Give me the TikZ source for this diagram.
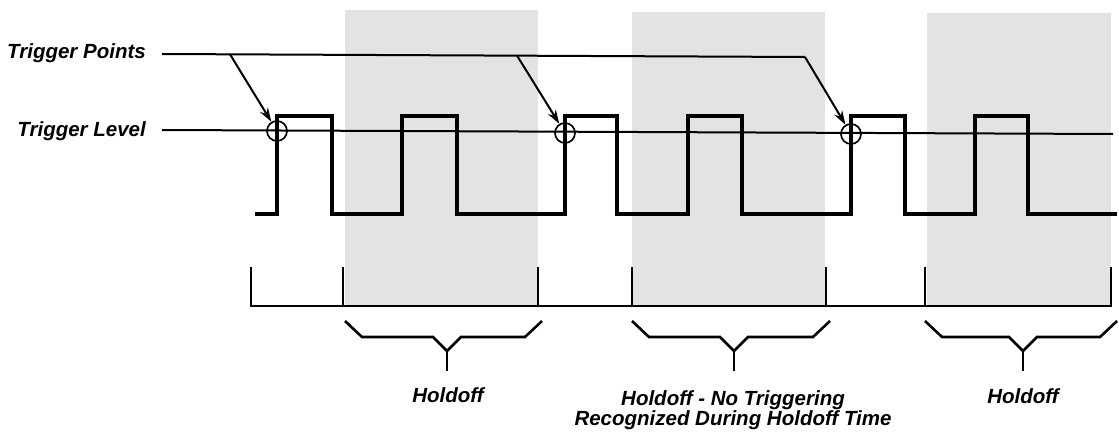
\documentclass[tikz,border=0pt]{standalone}
\usepackage{fontspec}
\setmainfont{Liberation Sans}
\usetikzlibrary{arrows.meta}
\begin{document}
\begin{tikzpicture}[x=1pt,y=-1pt,
  shadefill/.style={fill=black!11,draw=none},
  wave/.style={line width=4.6pt,line join=miter},
  thinline/.style={line width=2pt},
  brk/.style={line width=2.6pt},
  lbl/.style={font=\fontsize{20.5}{23}\selectfont\bfseries\itshape,inner sep=0pt},
  trig/.style={circle,draw,line width=1.7pt,minimum size=20pt,inner sep=0pt},
  arr/.style={line width=2pt,-{Stealth[length=14pt,width=9pt]}}]
\useasboundingbox (0,0) rectangle (1119,433);
% holdoff shading
\fill[shadefill] (345,10) rectangle (538,306);
\fill[shadefill] (632,12) rectangle (825,306);
\fill[shadefill] (927,13) rectangle (1111,306);
% labels
\node[lbl,anchor=base east] (tplbl) at (146,59) {Trigger Points};
\node[lbl,anchor=base east] (tllbl) at (146,137) {Trigger Level};
% trigger level line
\coordinate (lvlS) at (162,130);
\coordinate (lvlE) at (1113,134);
\draw[thinline] (lvlS) -- (lvlE);
% square wave
\draw[wave] (255,214) -- (277,214) -- (277,116) -- (332,116) -- (332,214) -- (402,214) -- (402,116) -- (457,116) -- (457,214) -- (565,214) -- (565,116) -- (617,116) -- (617,214) -- (688,214) -- (688,116) -- (742,116) -- (742,214) -- (851,214) -- (851,116) -- (905,116) -- (905,214) -- (975,214) -- (975,116) -- (1028,116) -- (1028,214) -- (1117,214);
% trigger point circles
\node[trig] (tp1) at (277,131) {};
\node[trig] (tp2) at (565,133) {};
\node[trig] (tp3) at (851,134) {};
% trigger points leader
\coordinate (tpS) at (162,54);
\coordinate (b1) at (230,54.3);
\coordinate (b2) at (517,55.6);
\coordinate (b3) at (805,57);
\draw[thinline] (tpS) -- (b3);
\draw[arr] (b1) -- (tp1);
\draw[arr] (b2) -- (tp2);
\draw[arr] (b3) -- (tp3);
% time axis with ticks
\draw[brk] (251,267) -- (251,306) -- (1112,306);
\foreach \t in {343,538,632,826,925,1111} {\draw[brk] (\t,267) -- (\t,306);}
% braces
\foreach \a/\m/\b/\n in {345/447/542/1,632/734/830/2,925/1023/1117/3} {
  \coordinate (tip\n) at (\m,351);
  \coordinate (stem\n) at (\m,371);
  \draw[brk,line join=miter] (\a,321) -- (\a+17,337) -- (\m-14,337) -- (tip\n) -- (\m+14,337) -- (\b-17,337) -- (\b,321);
  \draw[brk] (tip\n) -- (stem\n);
}
\node[lbl,anchor=base] (h1) at (448,402) {Holdoff};
\node[lbl,anchor=base] (h2a) at (733,405) {Holdoff - No Triggering};
\node[lbl,anchor=base] (h2b) at (733,425) {Recognized During Holdoff Time};
\node[lbl,anchor=base] (h3) at (1023,403) {Holdoff};
\end{tikzpicture}
\end{document}
